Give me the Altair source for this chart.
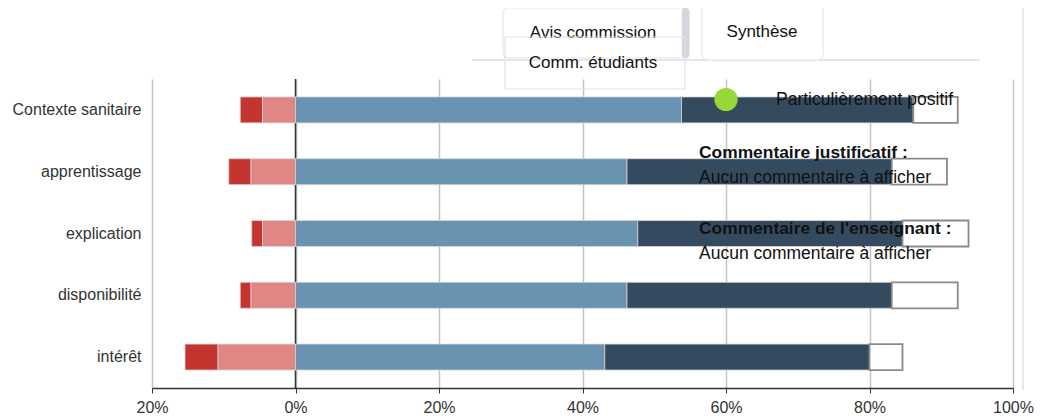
import altair as alt
import pandas as pd

# ---- data (percent of respondents) ----
categories = ["Contexte sanitaire", "apprentissage", "explication", "disponibilité", "intérêt"]
tres_negatif = [3.1, 3.1, 1.5, 1.5, 4.6]
negatif = [4.6, 6.2, 4.6, 6.2, 10.8]
positif = [53.8, 46.2, 47.7, 46.2, 43.1]
tres_positif = [32.3, 36.9, 36.9, 36.9, 36.9]
sans_avis = [6.2, 7.7, 9.2, 9.2, 4.6]

segments = ["Très négatif", "Négatif", "Positif", "Particulièrement positif", "Sans avis"]
seg_colors = ["#c4352f", "#e08684", "#6993b1", "#344b5f", "#ffffff"]
tick_values = [-20, 0, 20, 40, 60, 80, 100]

rows = []
for i, c in enumerate(categories):
    a, b, p, q, s = tres_negatif[i], negatif[i], positif[i], tres_positif[i], sans_avis[i]
    rows += [
        {"cat": c, "seg": segments[0], "x": -(a + b), "x2": -b},
        {"cat": c, "seg": segments[1], "x": -b, "x2": 0},
        {"cat": c, "seg": segments[2], "x": 0, "x2": p},
        {"cat": c, "seg": segments[3], "x": p, "x2": p + q},
        {"cat": c, "seg": segments[4], "x": p + q, "x2": p + q + s},
    ]
df = pd.DataFrame(rows)

W, H = 861, 309
FONT = "Liberation Sans"

x_scale = alt.Scale(domain=[-20, 100], nice=False, zero=False)
y_scale = alt.Scale(domain=categories, paddingInner=0.58, paddingOuter=0.29)

x_axis = alt.Axis(
    values=tick_values, labelExpr="abs(datum.value) + '%'", title=None,
    grid=True, gridColor="#c4c4c4", gridWidth=1.5, labelFlush=False,
    domainColor="#333333", domainWidth=1.5, tickColor="#333333", tickSize=5,
    labelFontSize=16, labelColor="#333333", labelPadding=6, labelFont=FONT,
)
y_axis = alt.Axis(
    title=None, domain=False, ticks=False, labelFontSize=16,
    labelPadding=11, labelColor="#333333", labelFont=FONT,
)

base = alt.Chart(df)
colored = base.transform_filter("datum.seg != 'Sans avis'").mark_bar(
    stroke="#d6d6d6", strokeWidth=0.8
).encode(
    x=alt.X("x:Q", scale=x_scale, axis=x_axis),
    x2="x2:Q",
    y=alt.Y("cat:N", scale=y_scale, sort=categories, axis=y_axis),
    color=alt.Color("seg:N", scale=alt.Scale(domain=segments, range=seg_colors), legend=None),
)
blank = base.transform_filter("datum.seg == 'Sans avis'").mark_bar(
    fill="#ffffff", stroke="#8a8a8a", strokeWidth=1.8
).encode(
    x=alt.X("x:Q", scale=x_scale, axis=x_axis),
    x2="x2:Q",
    y=alt.Y("cat:N", scale=y_scale, sort=categories, axis=y_axis),
)

zero_rule = alt.Chart(pd.DataFrame({"v": [0]})).mark_rule(
    color="#333333", strokeWidth=1.5
).encode(x=alt.X("v:Q", scale=x_scale, axis=x_axis))

# ---- overlaid page elements (plot-area pixel coordinates, origin at 152,79) ----
def one(label=""):
    return alt.Chart(pd.DataFrame({"label": [label]}))

LINE = "#e3e6ea"

def box(x0, x1, y0, y1, fill=None, stroke=LINE, sw=1.2, r=0):
    kw = dict(stroke=stroke, strokeWidth=sw, cornerRadius=r)
    if fill is None:
        kw["fillOpacity"] = 0
        kw["fill"] = "#ffffff"
    else:
        kw["fill"] = fill
    return one().mark_rect(**kw).encode(
        x=alt.value(x0), x2=alt.value(x1), y=alt.value(y0), y2=alt.value(y1)
    )

def txt(label, x, y, align="left", bold=False, size=17.5):
    return one(label).mark_text(
        align=align, baseline="middle", font=FONT, fontSize=size,
        fontWeight="bold" if bold else "normal", color="#111111"
    ).encode(text="label:N", x=alt.value(x), y=alt.value(y))

vline = one().mark_rule(color="#e6e9ef", strokeWidth=2).encode(
    x=alt.value(871), y=alt.value(-79), y2=alt.value(311)
)
tab_avis = box(351, 537, -71, -21, fill="#ffffff", r=5)
tab_avis_strip = box(530, 537, -71, -21, fill="#d3d6da", stroke="#d3d6da", sw=0.5, r=3)
txt_avis = txt("Avis commission", 441, -46, align="center", size=17)
box_comm = box(353, 533, -42, 10, fill=None, stroke="#dfe2e6")
hline = one().mark_rule(color=LINE, strokeWidth=2).encode(
    x=alt.value(320), x2=alt.value(828), y=alt.value(-19)
)
txt_comm = txt("Comm. étudiants", 441, -16, align="center", size=17)
tab_syn = box(550, 671, -74, -19, fill="#ffffff", r=5)
txt_syn = txt("Synthèse", 610, -47, align="center", size=17)

dot = one().mark_circle(color="#97d73a", opacity=1, size=540).encode(
    x=alt.value(574), y=alt.value(20.5)
)
t1 = txt("Particulièrement positif", 624, 21)
t2 = txt("Commentaire justificatif :", 547, 74, bold=True, size=17.4)
t3 = txt("Aucun commentaire à afficher", 547, 99)
t4 = txt("Commentaire de l'enseignant :", 547, 150, bold=True, size=17.4)
t5 = txt("Aucun commentaire à afficher", 547, 175)

chart = alt.layer(
    zero_rule, colored, blank,
    vline, tab_avis, tab_avis_strip, txt_avis, box_comm, hline, txt_comm, tab_syn, txt_syn,
    dot, t1, t2, t3, t4, t5,
).properties(
    width=W, height=H,
    autosize=alt.AutoSizeParams(type="none"),
    padding={"left": 144, "top": 71, "right": 30, "bottom": 28},
).configure(background="#ffffff").configure_view(strokeWidth=0)

chart.save("out.html", embed_options={"renderer": "svg", "actions": False})
